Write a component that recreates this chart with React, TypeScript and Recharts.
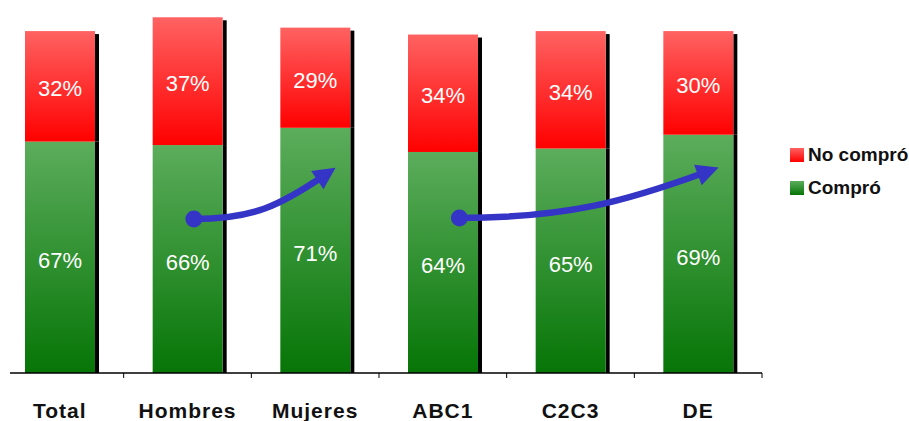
import { Bar, BarChart, LabelList, ReferenceLine, XAxis, YAxis } from "recharts";

const categories = ["Total", "Hombres", "Mujeres", "ABC1", "C2C3", "DE"];
const compro = [67, 66, 71, 64, 65, 69];
const noCompro = [32, 37, 29, 34, 34, 30];

// trend arrows: x in category-index units, y in percent
const arrowFrom = [
  { x: 1.05, y: 44.6 },
  { x: 3.13, y: 44.9 },
];
const arrowTo = [
  { x: 2.16, y: 59.4 },
  { x: 5.16, y: 59.5 },
];

const series = [
  { key: "noCompro", name: "No compró", grad: "gradRed", top: "#ff6262", bottom: "#ff0000" },
  { key: "compro", name: "Compró", grad: "gradGreen", top: "#5cad5c", bottom: "#067506" },
];

const data = categories.map((name, i) => ({
  name,
  idx: i,
  compro: compro[i],
  noCompro: noCompro[i],
}));

const W = 909;
const H = 421;
const AXIS_H = 48;
const MARGIN = { top: 0, right: 147, bottom: 0, left: 10 };
const PAD_LEFT = -14;
const AXIS_Y = H - AXIS_H;
const BAND = (W - MARGIN.left - MARGIN.right - PAD_LEFT) / categories.length;
const FONT = '"Liberation Sans", Arial, Helvetica, sans-serif';
const ARROW_COLOR = "#3434c6";

function shadowBar(grad: string, topOffset: number) {
  return (props: any) => {
    const { x, y, width, height } = props;
    if (!height || height <= 0) return <g />;
    return (
      <g>
        <rect x={x + width} y={y + topOffset} width={4} height={height - topOffset} fill="#000" />
        <rect x={x} y={y} width={width} height={height} fill={`url(#${grad})`} />
      </g>
    );
  };
}

function CategoryTick(props: any) {
  const { x, payload } = props;
  return (
    <g>
      <line x1={x + BAND / 2} x2={x + BAND / 2} y1={AXIS_Y} y2={AXIS_Y + 5} stroke="#000" strokeWidth={1} />
      <text
        x={x}
        y={AXIS_Y + 45}
        textAnchor="middle"
        fontFamily={FONT}
        fontWeight="bold"
        fontSize={21}
        letterSpacing={1}
        fill="#111"
      >
        {payload.value}
      </text>
    </g>
  );
}

function TrendArrow(props: any) {
  const { x1, y1, x2, y2 } = props;
  const dx = x2 - x1;
  const dy = y2 - y1;
  const c1x = x1 + 0.42 * dx;
  const c1y = y1;
  const c2x = x2 - 0.3 * dx;
  const c2y = y2 - 0.56 * dy;
  const tx = x2 - c2x;
  const ty = y2 - c2y;
  const len = Math.hypot(tx, ty);
  const ux = tx / len;
  const uy = ty / len;
  const headLen = 22;
  const headHalf = 11;
  const bx = x2 - headLen * ux;
  const by = y2 - headLen * uy;
  const ex = x2 - headLen * 0.7 * ux;
  const ey = y2 - headLen * 0.7 * uy;
  const nx = -uy;
  const ny = ux;
  return (
    <g>
      <path
        d={`M${x1},${y1} C${c1x},${c1y} ${c2x - headLen * 0.7 * ux},${c2y - headLen * 0.7 * uy} ${ex},${ey}`}
        fill="none"
        stroke={ARROW_COLOR}
        strokeWidth={6.5}
      />
      <circle cx={x1} cy={y1} r={8.5} fill={ARROW_COLOR} />
      <polygon
        points={`${x2},${y2} ${bx + headHalf * nx},${by + headHalf * ny} ${bx - headHalf * nx},${by - headHalf * ny}`}
        fill={ARROW_COLOR}
      />
    </g>
  );
}

export default function App() {
  return (
    <div style={{ position: "absolute", left: 0, top: 0, width: W, height: H, background: "#fff" }}>
      <BarChart width={W} height={H} data={data} margin={MARGIN} barSize={70}>
        <defs>
          {series.map((s) => (
            <linearGradient key={s.grad} id={s.grad} x1="0" y1="0" x2="0" y2="1">
              <stop offset="0%" stopColor={s.top} />
              <stop offset="100%" stopColor={s.bottom} />
            </linearGradient>
          ))}
        </defs>
        <XAxis
          dataKey="name"
          height={AXIS_H}
          interval={0}
          padding={{ left: PAD_LEFT, right: 0 }}
          axisLine={{ stroke: "#000", strokeWidth: 1.5 }}
          tickLine={false}
          tick={<CategoryTick />}
        />
        {/* index axis: band centres sit half a band in from each end */}
        <XAxis
          xAxisId="idx"
          dataKey="idx"
          type="number"
          domain={[0, categories.length - 1]}
          allowDataOverflow
          padding={{ left: PAD_LEFT + BAND / 2, right: BAND / 2 }}
          hide
        />
        <YAxis hide domain={[0, 108]} allowDataOverflow />
        <Bar
          dataKey="compro"
          name="Compró"
          stackId="a"
          isAnimationActive={false}
          shape={shadowBar("gradGreen", 0)}
        >
          <LabelList
            dataKey="compro"
            position="center"
            fill="#fff"
            fontSize={22}
            fontFamily={FONT}
            dy={3}
            formatter={(v: any) => `${v}%`}
          />
        </Bar>
        <Bar
          dataKey="noCompro"
          name="No compró"
          stackId="a"
          isAnimationActive={false}
          shape={shadowBar("gradRed", 3)}
        >
          <LabelList
            dataKey="noCompro"
            position="center"
            fill="#fff"
            fontSize={22}
            fontFamily={FONT}
            dy={2}
            formatter={(v: any) => `${v}%`}
          />
        </Bar>
        {arrowFrom.map((p, i) => (
          <ReferenceLine
            key={i}
            xAxisId="idx"
            ifOverflow="visible"
            segment={[p, arrowTo[i]]}
            shape={TrendArrow}
          />
        ))}
      </BarChart>
      <div style={{ position: "absolute", left: 790, top: 138, fontFamily: FONT }}>
        {series.map((s) => (
          <div key={s.key} style={{ display: "flex", alignItems: "center", height: 33 }}>
            <span
              style={{
                display: "inline-block",
                width: 14,
                height: 14,
                marginRight: 4,
                background: `linear-gradient(${s.top}, ${s.bottom})`,
              }}
            />
            <span style={{ fontSize: 19, fontWeight: "bold", color: "#111" }}>{s.name}</span>
          </div>
        ))}
      </div>
    </div>
  );
}
